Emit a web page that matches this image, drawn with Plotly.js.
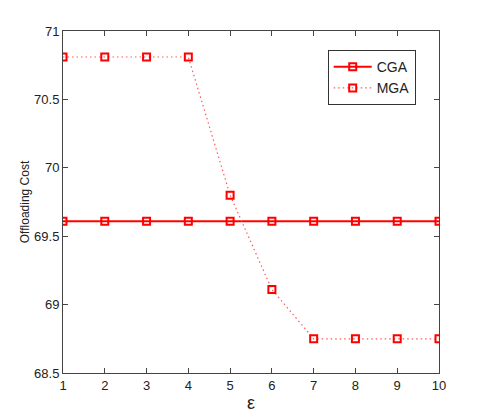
<!DOCTYPE html>
<html>
<head>
<meta charset="utf-8">
<script src="https://cdn.plot.ly/plotly-3.0.1.min.js"></script>
<style>html,body{margin:0;padding:0;background:#fff;}#chart{width:485px;height:420px;}</style>
</head>
<body>
<div id="chart"></div>
<script>
var epsilon = [1, 2, 3, 4, 5, 6, 7, 8, 9, 10];
var cgaCost = [69.61, 69.61, 69.61, 69.61, 69.61, 69.61, 69.61, 69.61, 69.61, 69.61];
var mgaCost = [70.81, 70.81, 70.81, 70.81, 69.80, 69.11, 68.75, 68.75, 68.75, 68.75];
var yTicks = [68.5, 69, 69.5, 70, 70.5, 71];

var font = 'Liberation Sans, Arial, sans-serif';
var traces = [
  {x: epsilon, y: cgaCost, name: 'CGA', type: 'scatter', mode: 'lines+markers',
   line: {color: 'rgb(255,0,0)', width: 2},
   marker: {symbol: 'square-open', size: 7, color: 'rgb(255,0,0)', line: {width: 2, color: 'rgb(255,0,0)'}}},
  {x: epsilon, y: mgaCost, name: 'MGA', type: 'scatter', mode: 'lines+markers',
   line: {color: 'rgb(255,90,90)', width: 1.2, dash: '1.5px,3px'},
   marker: {symbol: 'square-open', size: 7, color: 'rgb(255,0,0)', line: {width: 2, color: 'rgb(255,0,0)'}}}
];
var layout = {
  width: 485, height: 420,
  margin: {l: 63, r: 46, t: 31, b: 47},
  paper_bgcolor: '#fff', plot_bgcolor: '#fff',
  font: {family: font, size: 13, color: '#222'},
  showlegend: true,
  legend: {x: 0.704, y: 0.944, xanchor: 'left', yanchor: 'top', bgcolor: '#fff',
           bordercolor: '#333', borderwidth: 1, font: {size: 14, family: font},
           tracegroupgap: 0, itemwidth: 38},
  xaxis: {range: [1, 10], tickvals: epsilon, ticks: 'inside', ticklen: 5, tickcolor: '#444',
          showline: true, linecolor: '#444', linewidth: 1, mirror: 'ticks', showgrid: false, zeroline: false,
          tickfont: {size: 13}, title: {text: 'ε', font: {size: 18}, standoff: 4}},
  yaxis: {range: [68.5, 71], tickvals: yTicks, ticktext: yTicks.map(String), ticks: 'inside', ticklen: 5, tickcolor: '#444',
          showline: true, linecolor: '#444', linewidth: 1, mirror: 'ticks', showgrid: false, zeroline: false,
          tickfont: {size: 13}, title: {text: 'Offloading Cost', font: {size: 12}, standoff: 1}}
};
Plotly.newPlot('chart', traces, layout, {displayModeBar: false, staticPlot: true});
</script>
</body>
</html>
